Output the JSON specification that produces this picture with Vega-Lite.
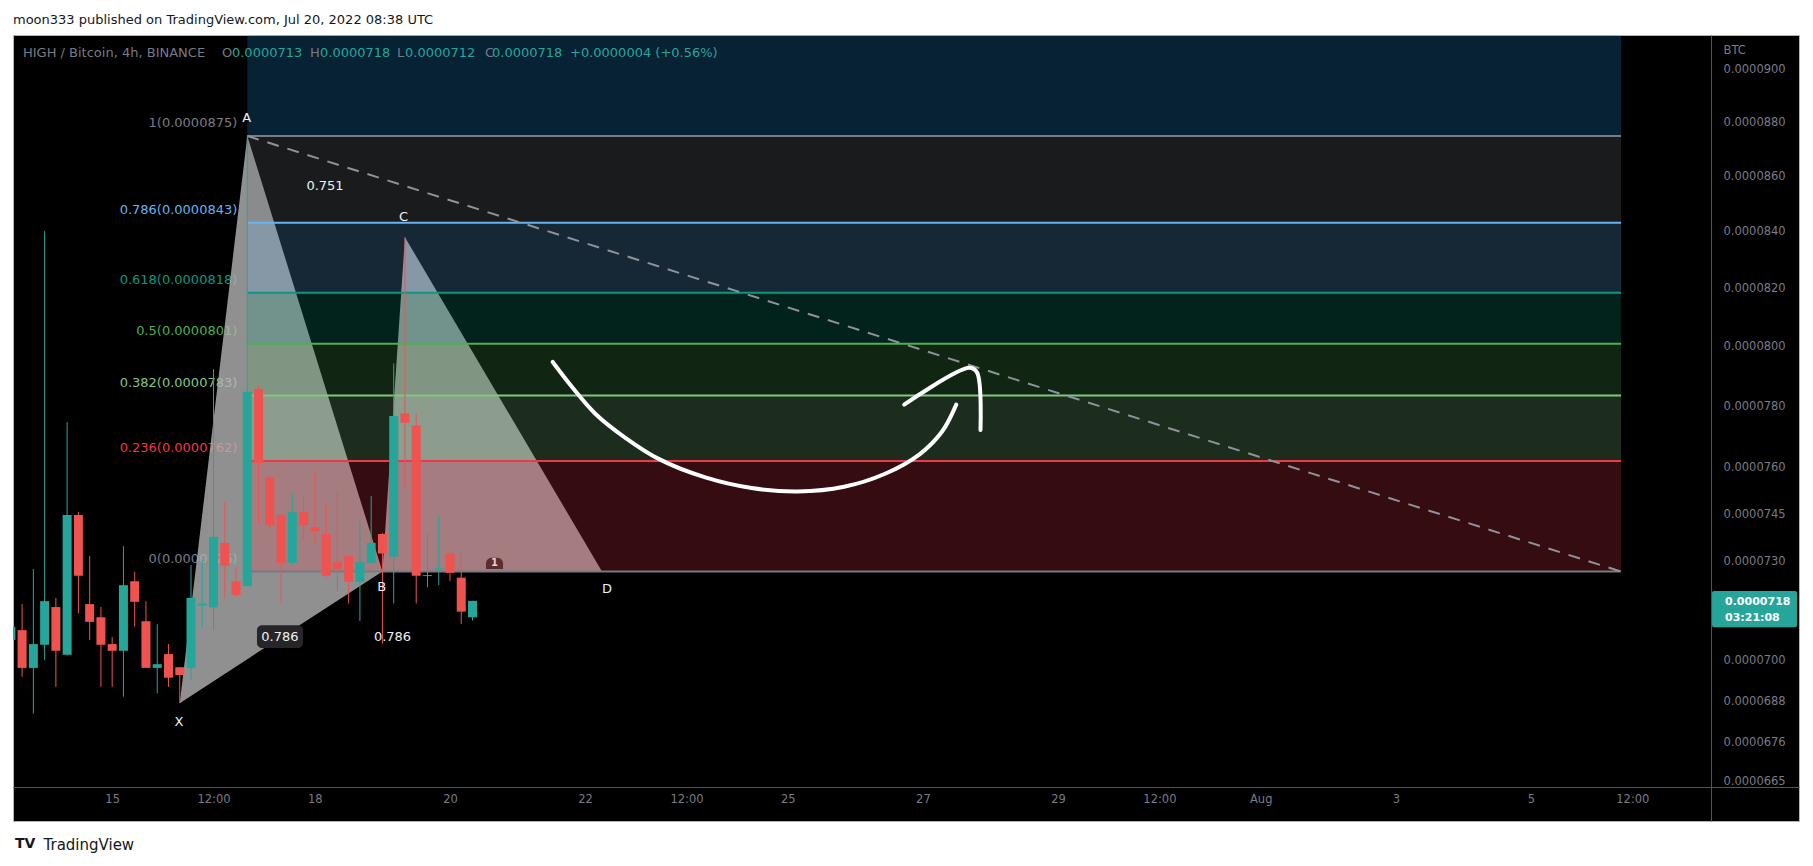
{
  "$schema": "https://vega.github.io/schema/vega-lite/v6.json",
  "width": 1786,
  "height": 786,
  "autosize": "none",
  "padding": {"left": 13, "top": 35, "right": 14, "bottom": 45},
  "background": "#ffffff",
  "config": {
    "font": "DejaVu Sans",
    "view": {"fill": "#000000", "stroke": "#b2b5be", "strokeWidth": 1},
    "axisY": {
      "grid": false, "ticks": false, "tickSize": 0,
      "domainColor": "#50535e", "domainWidth": 1,
      "labelColor": "#787b86", "labelFontSize": 11.5, "labelPadding": 12,
      "labelAlign": "left", "labelBaseline": "middle", "labelOverlap": false, "labelFlush": false,
      "titleAngle": 0, "titleAlign": "left", "titleBaseline": "middle",
      "titleColor": "#787b86", "titleFontSize": 11.5, "titleFontWeight": "normal"
    }
  },
  "title": {
    "text": "moon333 published on TradingView.com, Jul 20, 2022 08:38 UTC",
    "anchor": "start", "frame": "group", "offset": 8,
    "fontSize": 13, "fontWeight": "normal", "color": "#131722"
  },
  "datasets": {
    "candles": [
      {"t": "2022-07-13T12:00:00Z", "o": 0.00007061, "h": 0.00007115, "l": 0.00007030, "c": 0.00007101},
      {"t": "2022-07-13T16:00:00Z", "o": 0.00007091, "h": 0.00007170, "l": 0.00006952, "c": 0.00006978},
      {"t": "2022-07-13T20:00:00Z", "o": 0.00006978, "h": 0.00007278, "l": 0.00006844, "c": 0.00007049},
      {"t": "2022-07-14T00:00:00Z", "o": 0.00007047, "h": 0.00008403, "l": 0.00007001, "c": 0.00007179},
      {"t": "2022-07-14T04:00:00Z", "o": 0.00007161, "h": 0.00007189, "l": 0.00006922, "c": 0.00007029},
      {"t": "2022-07-14T08:00:00Z", "o": 0.00007017, "h": 0.00007748, "l": 0.00007015, "c": 0.00007447},
      {"t": "2022-07-14T12:00:00Z", "o": 0.00007447, "h": 0.00007456, "l": 0.00007142, "c": 0.00007257},
      {"t": "2022-07-14T16:00:00Z", "o": 0.00007170, "h": 0.00007318, "l": 0.00007061, "c": 0.00007116},
      {"t": "2022-07-14T20:00:00Z", "o": 0.00007130, "h": 0.00007161, "l": 0.00006922, "c": 0.00007047},
      {"t": "2022-07-15T00:00:00Z", "o": 0.00007049, "h": 0.00007070, "l": 0.00006922, "c": 0.00007029},
      {"t": "2022-07-15T04:00:00Z", "o": 0.00007029, "h": 0.00007349, "l": 0.00006893, "c": 0.00007228},
      {"t": "2022-07-15T08:00:00Z", "o": 0.00007240, "h": 0.00007269, "l": 0.00007101, "c": 0.00007177},
      {"t": "2022-07-15T12:00:00Z", "o": 0.00007118, "h": 0.00007179, "l": 0.00006978, "c": 0.00006978},
      {"t": "2022-07-15T16:00:00Z", "o": 0.00006978, "h": 0.00007109, "l": 0.00006903, "c": 0.00006989},
      {"t": "2022-07-15T20:00:00Z", "o": 0.00007019, "h": 0.00007049, "l": 0.00006922, "c": 0.00006949},
      {"t": "2022-07-16T00:00:00Z", "o": 0.00006980, "h": 0.00006981, "l": 0.00006874, "c": 0.00006957},
      {"t": "2022-07-16T04:00:00Z", "o": 0.00006978, "h": 0.00007290, "l": 0.00006942, "c": 0.00007189},
      {"t": "2022-07-16T08:00:00Z", "o": 0.00007166, "h": 0.00007305, "l": 0.00007101, "c": 0.00007171},
      {"t": "2022-07-16T12:00:00Z", "o": 0.00007160, "h": 0.00007924, "l": 0.00007091, "c": 0.00007378},
      {"t": "2022-07-16T16:00:00Z", "o": 0.00007359, "h": 0.00007489, "l": 0.00007189, "c": 0.00007288},
      {"t": "2022-07-16T20:00:00Z", "o": 0.00007240, "h": 0.00007285, "l": 0.00007189, "c": 0.00007198},
      {"t": "2022-07-17T00:00:00Z", "o": 0.00007225, "h": 0.00008750, "l": 0.00007225, "c": 0.00007848},
      {"t": "2022-07-17T04:00:00Z", "o": 0.00007857, "h": 0.00007868, "l": 0.00007420, "c": 0.00007614},
      {"t": "2022-07-17T08:00:00Z", "o": 0.00007568, "h": 0.00007575, "l": 0.00007399, "c": 0.00007415},
      {"t": "2022-07-17T12:00:00Z", "o": 0.00007447, "h": 0.00007450, "l": 0.00007172, "c": 0.00007297},
      {"t": "2022-07-17T16:00:00Z", "o": 0.00007297, "h": 0.00007516, "l": 0.00007290, "c": 0.00007456},
      {"t": "2022-07-17T20:00:00Z", "o": 0.00007456, "h": 0.00007507, "l": 0.00007368, "c": 0.00007415},
      {"t": "2022-07-18T00:00:00Z", "o": 0.00007409, "h": 0.00007587, "l": 0.00007359, "c": 0.00007396},
      {"t": "2022-07-18T04:00:00Z", "o": 0.00007387, "h": 0.00007487, "l": 0.00007251, "c": 0.00007257},
      {"t": "2022-07-18T08:00:00Z", "o": 0.00007299, "h": 0.00007526, "l": 0.00007210, "c": 0.00007277},
      {"t": "2022-07-18T12:00:00Z", "o": 0.00007318, "h": 0.00007320, "l": 0.00007172, "c": 0.00007238},
      {"t": "2022-07-18T16:00:00Z", "o": 0.00007238, "h": 0.00007428, "l": 0.00007119, "c": 0.00007299},
      {"t": "2022-07-18T20:00:00Z", "o": 0.00007297, "h": 0.00007507, "l": 0.00007295, "c": 0.00007359},
      {"t": "2022-07-19T00:00:00Z", "o": 0.00007387, "h": 0.00007390, "l": 0.00007051, "c": 0.00007326},
      {"t": "2022-07-19T04:00:00Z", "o": 0.00007316, "h": 0.00007943, "l": 0.00007172, "c": 0.00007767},
      {"t": "2022-07-19T08:00:00Z", "o": 0.00007776, "h": 0.00008381, "l": 0.00007537, "c": 0.00007745},
      {"t": "2022-07-19T12:00:00Z", "o": 0.00007736, "h": 0.00007776, "l": 0.00007172, "c": 0.00007257},
      {"t": "2022-07-19T16:00:00Z", "o": 0.00007256, "h": 0.00007387, "l": 0.00007221, "c": 0.00007259},
      {"t": "2022-07-19T20:00:00Z", "o": 0.00007277, "h": 0.00007447, "l": 0.00007228, "c": 0.00007280},
      {"t": "2022-07-20T00:00:00Z", "o": 0.00007326, "h": 0.00007328, "l": 0.00007241, "c": 0.00007266},
      {"t": "2022-07-20T04:00:00Z", "o": 0.00007251, "h": 0.00007326, "l": 0.00007109, "c": 0.00007147},
      {"t": "2022-07-20T08:00:00Z", "o": 0.00007130, "h": 0.00007180, "l": 0.00007120, "c": 0.00007180}
    ],
    "fib": [
      {"lvl": "1", "p": 0.0000875, "t": "2022-07-17T00:00:00Z", "t2": "2022-08-06T08:00:00Z", "label": "1(0.0000875)"},
      {"lvl": "0.786", "p": 0.00008433, "t": "2022-07-17T00:00:00Z", "t2": "2022-08-06T08:00:00Z", "label": "0.786(0.0000843)"},
      {"lvl": "0.618", "p": 0.00008185, "t": "2022-07-17T00:00:00Z", "t2": "2022-08-06T08:00:00Z", "label": "0.618(0.0000818)"},
      {"lvl": "0.5", "p": 0.0000801, "t": "2022-07-17T00:00:00Z", "t2": "2022-08-06T08:00:00Z", "label": "0.5(0.0000801)"},
      {"lvl": "0.382", "p": 0.00007835, "t": "2022-07-17T00:00:00Z", "t2": "2022-08-06T08:00:00Z", "label": "0.382(0.0000783)"},
      {"lvl": "0.236", "p": 0.0000762, "t": "2022-07-17T00:00:00Z", "t2": "2022-08-06T08:00:00Z", "label": "0.236(0.0000762)"},
      {"lvl": "0", "p": 0.0000727, "t": "2022-07-17T00:00:00Z", "t2": "2022-08-06T08:00:00Z", "label": "0(0.0000726)"}
    ],
    "zones": [
      {"lvl": "1.618", "lo": 0.0000875, "hi": 0.0000966, "t": "2022-07-17T00:00:00Z", "t2": "2022-08-06T08:00:00Z"},
      {"lvl": "1", "lo": 0.00008433, "hi": 0.0000875, "t": "2022-07-17T00:00:00Z", "t2": "2022-08-06T08:00:00Z"},
      {"lvl": "0.786", "lo": 0.00008185, "hi": 0.00008433, "t": "2022-07-17T00:00:00Z", "t2": "2022-08-06T08:00:00Z"},
      {"lvl": "0.618", "lo": 0.0000801, "hi": 0.00008185, "t": "2022-07-17T00:00:00Z", "t2": "2022-08-06T08:00:00Z"},
      {"lvl": "0.5", "lo": 0.00007835, "hi": 0.0000801, "t": "2022-07-17T00:00:00Z", "t2": "2022-08-06T08:00:00Z"},
      {"lvl": "0.382", "lo": 0.0000762, "hi": 0.00007835, "t": "2022-07-17T00:00:00Z", "t2": "2022-08-06T08:00:00Z"},
      {"lvl": "0.236", "lo": 0.0000727, "hi": 0.0000762, "t": "2022-07-17T00:00:00Z", "t2": "2022-08-06T08:00:00Z"}
    ],
    "tri": [
      {"tri": "XAB", "t": "2022-07-16T00:00:00Z", "lo": 0.00006874, "hi": 0.00006874},
      {"tri": "XAB", "t": "2022-07-17T00:00:00Z", "lo": 0.00007004, "hi": 0.0000875},
      {"tri": "XAB", "t": "2022-07-19T00:00:00Z", "lo": 0.0000727, "hi": 0.0000727},
      {"tri": "BCD", "t": "2022-07-19T00:00:00Z", "lo": 0.0000727, "hi": 0.0000727},
      {"tri": "BCD", "t": "2022-07-19T08:00:00Z", "lo": 0.0000727, "hi": 0.00008381},
      {"tri": "BCD", "t": "2022-07-22T06:00:00Z", "lo": 0.0000727, "hi": 0.0000727}
    ],
    "trend": [
      {"t": "2022-07-17T00:00:00Z", "p": 0.0000875},
      {"t": "2022-08-06T08:00:00Z", "p": 0.0000727}
    ],
    "letters": [
      {"t": "2022-07-16T23:45:00Z", "p": 0.00008817, "txt": "A"},
      {"t": "2022-07-15T23:44:00Z", "p": 0.00006820, "txt": "X"},
      {"t": "2022-07-18T23:42:00Z", "p": 0.00007222, "txt": "B"},
      {"t": "2022-07-19T07:29:00Z", "p": 0.00008453, "txt": "C"},
      {"t": "2022-07-22T07:47:00Z", "p": 0.00007217, "txt": "D"}
    ],
    "ratios": [
      {"t": "2022-07-17T11:36:00Z", "p": 0.00007070, "txt": "0.786"},
      {"t": "2022-07-19T03:35:00Z", "p": 0.00007070, "txt": "0.786"},
      {"t": "2022-07-18T03:36:00Z", "p": 0.00008566, "txt": "0.751"}
    ],
    "rbox": [
      {"t": "2022-07-17T03:26:00Z", "t2": "2022-07-17T19:47:00Z", "lo": 0.00007037, "hi": 0.00007106}
    ],
    "arrow": [
      {"seg": "curve", "i": 0, "t": "2022-07-21T12:29:00Z", "p": 0.00007948},
      {"seg": "curve", "i": 1, "t": "2022-07-21T19:26:00Z", "p": 0.00007863},
      {"seg": "curve", "i": 2, "t": "2022-07-22T03:42:00Z", "p": 0.00007774},
      {"seg": "curve", "i": 3, "t": "2022-07-22T13:56:00Z", "p": 0.00007698},
      {"seg": "curve", "i": 4, "t": "2022-07-23T02:17:00Z", "p": 0.00007626},
      {"seg": "curve", "i": 5, "t": "2022-07-23T18:42:00Z", "p": 0.00007567},
      {"seg": "curve", "i": 6, "t": "2022-07-24T11:08:00Z", "p": 0.00007533},
      {"seg": "curve", "i": 7, "t": "2022-07-25T03:33:00Z", "p": 0.00007522},
      {"seg": "curve", "i": 8, "t": "2022-07-25T20:00:00Z", "p": 0.00007537},
      {"seg": "curve", "i": 9, "t": "2022-07-26T10:21:00Z", "p": 0.00007578},
      {"seg": "curve", "i": 10, "t": "2022-07-26T22:41:00Z", "p": 0.00007641},
      {"seg": "curve", "i": 11, "t": "2022-07-27T06:53:00Z", "p": 0.00007717},
      {"seg": "curve", "i": 12, "t": "2022-07-27T11:50:00Z", "p": 0.00007805},
      {"seg": "head", "i": 0, "t": "2022-07-26T17:21:00Z", "p": 0.00007805},
      {"seg": "head", "i": 1, "t": "2022-07-27T16:22:00Z", "p": 0.00007928},
      {"seg": "head", "i": 2, "t": "2022-07-27T19:12:00Z", "p": 0.00007913},
      {"seg": "head", "i": 3, "t": "2022-07-27T20:27:00Z", "p": 0.00007721}
    ],
    "badge": [
      {"t": "2022-07-20T12:47:00Z", "t2": "2022-07-20T18:50:00Z", "lo": 0.00007278, "hi": 0.00007313}
    ],
    "badgetxt": [
      {"t": "2022-07-20T15:49:00Z", "p": 0.00007295, "txt": "1"}
    ],
    "hdr": [
      {"t": "2022-07-13T16:19:00Z", "p": 0.00009064, "txt": "HIGH / Bitcoin, 4h, BINANCE", "kind": "name"},
      {"t": "2022-07-16T15:00:00Z", "p": 0.00009064, "txt": "O", "kind": "name"},
      {"t": "2022-07-16T18:33:00Z", "p": 0.00009064, "txt": "0.0000713", "kind": "value"},
      {"t": "2022-07-17T22:16:00Z", "p": 0.00009064, "txt": "H", "kind": "name"},
      {"t": "2022-07-18T01:49:00Z", "p": 0.00009064, "txt": "0.0000718", "kind": "value"},
      {"t": "2022-07-19T05:10:00Z", "p": 0.00009064, "txt": "L", "kind": "name"},
      {"t": "2022-07-19T08:01:00Z", "p": 0.00009064, "txt": "0.0000712", "kind": "value"},
      {"t": "2022-07-20T12:26:00Z", "p": 0.00009064, "txt": "C", "kind": "name"},
      {"t": "2022-07-20T14:55:00Z", "p": 0.00009064, "txt": "0.0000718", "kind": "value"},
      {"t": "2022-07-21T18:38:00Z", "p": 0.00009064, "txt": "+0.0000004 (+0.56%)", "kind": "value"}
    ],
    "pbox": [
      {"t": "2022-08-07T16:19:00Z", "t2": "2022-08-08T22:31:00Z", "lo": 0.00007100, "hi": 0.00007210}
    ],
    "ptxt": [
      {"t": "2022-08-07T20:56:00Z", "p": 0.00007177, "txt": "0.0000718"},
      {"t": "2022-08-07T20:56:00Z", "p": 0.00007127, "txt": "03:21:08"}
    ],
    "logo": [
      {"t": "2022-07-13T13:28:00Z", "p": 0.00006474, "txt": "TV"}
    ]
  },
  "encoding": {
    "x": {
      "field": "t", "type": "temporal",
      "scale": {"type": "utc", "domain": [1657716364800, 1660000348800], "nice": false, "padding": 0},
      "axis": {
        "orient": "bottom", "offset": -34,
        "values": [1657843200000, 1657972800000, 1658102400000, 1658275200000, 1658448000000, 1658577600000, 1658707200000, 1658880000000, 1659052800000, 1659182400000, 1659312000000, 1659484800000, 1659657600000, 1659787200000],
        "labelExpr": "utcFormat(datum.value, '%H') == '12' ? '12:00' : (utcFormat(datum.value, '%d') == '01' ? 'Aug' : utcFormat(datum.value, '%-d'))",
        "grid": false, "ticks": false, "tickSize": 0,
        "domainColor": "#50535e", "domainWidth": 1,
        "labelColor": "#787b86", "labelFontSize": 11.5, "labelPadding": 12,
        "labelOverlap": false, "labelFlush": false, "labelBaseline": "middle",
        "title": "TradingView", "titleX": 30, "titleY": 57, "titleAlign": "left", "titleBaseline": "middle",
        "titleColor": "#131722", "titleFontSize": 15, "titleFontWeight": "normal"
      }
    }
  },
  "layer": [
    {
      "data": {"name": "fib"},
      "mark": {"type": "text", "align": "right", "baseline": "middle", "dx": -10, "dy": -13, "fontSize": 13},
      "encoding": {
        "y": {"field": "p", "type": "quantitative",
          "scale": {"type": "log", "domain": [0.00006538, 0.00009134], "nice": false, "zero": false, "padding": 0},
          "axis": {"orient": "right", "offset": -88, "values": [0.00009, 0.000088, 0.000086, 0.000084, 0.000082, 0.00008, 0.000078, 0.000076, 0.0000745, 0.000073, 0.00007, 0.0000688, 0.0000676, 0.0000665], "format": ".7f", "title": "BTC", "titleX": 12, "titleY": 15}},
        "text": {"field": "label"},
        "color": {"field": "lvl", "type": "nominal", "legend": null,
          "scale": {"domain": ["0", "0.236", "0.382", "0.5", "0.618", "0.786", "1", "1.618"],
                    "range": ["#787b86", "#f23645", "#81c784", "#4caf50", "#089981", "#64b5f6", "#787b86", "#2196f3"]}}
      }
    },
    {
      "data": {"name": "tri"},
      "mark": {"type": "area", "color": "#b4b4b4", "opacity": 0.8, "clip": true},
      "encoding": {
        "y": {"field": "lo", "type": "quantitative",
          "scale": {"type": "log", "domain": [0.00006538, 0.00009134], "nice": false, "zero": false, "padding": 0},
          "axis": {"orient": "right", "offset": -88, "values": [0.00009, 0.000088, 0.000086, 0.000084, 0.000082, 0.00008, 0.000078, 0.000076, 0.0000745, 0.000073, 0.00007, 0.0000688, 0.0000676, 0.0000665], "format": ".7f", "title": "BTC", "titleX": 12, "titleY": 15}},
        "y2": {"field": "hi"},
        "detail": {"field": "tri"}
      }
    },
    {
      "data": {"name": "zones"},
      "mark": {"type": "rect", "opacity": 0.22, "clip": true},
      "encoding": {
        "x2": {"field": "t2"},
        "y": {"field": "lo", "type": "quantitative",
          "scale": {"type": "log", "domain": [0.00006538, 0.00009134], "nice": false, "zero": false, "padding": 0},
          "axis": {"orient": "right", "offset": -88, "values": [0.00009, 0.000088, 0.000086, 0.000084, 0.000082, 0.00008, 0.000078, 0.000076, 0.0000745, 0.000073, 0.00007, 0.0000688, 0.0000676, 0.0000665], "format": ".7f", "title": "BTC", "titleX": 12, "titleY": 15}},
        "y2": {"field": "hi"},
        "color": {"field": "lvl", "type": "nominal", "legend": null,
          "scale": {"domain": ["0", "0.236", "0.382", "0.5", "0.618", "0.786", "1", "1.618"],
                    "range": ["#787b86", "#f23645", "#81c784", "#4caf50", "#089981", "#64b5f6", "#787b86", "#2196f3"]}}
      }
    },
    {
      "data": {"name": "fib"},
      "mark": {"type": "rule", "strokeWidth": 2, "clip": true},
      "encoding": {
        "x2": {"field": "t2"},
        "y": {"field": "p", "type": "quantitative",
          "scale": {"type": "log", "domain": [0.00006538, 0.00009134], "nice": false, "zero": false, "padding": 0},
          "axis": {"orient": "right", "offset": -88, "values": [0.00009, 0.000088, 0.000086, 0.000084, 0.000082, 0.00008, 0.000078, 0.000076, 0.0000745, 0.000073, 0.00007, 0.0000688, 0.0000676, 0.0000665], "format": ".7f", "title": "BTC", "titleX": 12, "titleY": 15}},
        "color": {"field": "lvl", "type": "nominal", "legend": null,
          "scale": {"domain": ["0", "0.236", "0.382", "0.5", "0.618", "0.786", "1", "1.618"],
                    "range": ["#787b86", "#f23645", "#81c784", "#4caf50", "#089981", "#64b5f6", "#787b86", "#2196f3"]}}
      }
    },
    {
      "data": {"name": "trend"},
      "mark": {"type": "line", "color": "#8f929b", "strokeWidth": 2, "strokeDash": [12, 9], "clip": true},
      "encoding": {
        "y": {"field": "p", "type": "quantitative",
          "scale": {"type": "log", "domain": [0.00006538, 0.00009134], "nice": false, "zero": false, "padding": 0},
          "axis": {"orient": "right", "offset": -88, "values": [0.00009, 0.000088, 0.000086, 0.000084, 0.000082, 0.00008, 0.000078, 0.000076, 0.0000745, 0.000073, 0.00007, 0.0000688, 0.0000676, 0.0000665], "format": ".7f", "title": "BTC", "titleX": 12, "titleY": 15}}
      }
    },
    {
      "data": {"name": "candles"},
      "mark": {"type": "rule", "strokeWidth": 1, "clip": true},
      "encoding": {
        "y": {"field": "l", "type": "quantitative",
          "scale": {"type": "log", "domain": [0.00006538, 0.00009134], "nice": false, "zero": false, "padding": 0},
          "axis": {"orient": "right", "offset": -88, "values": [0.00009, 0.000088, 0.000086, 0.000084, 0.000082, 0.00008, 0.000078, 0.000076, 0.0000745, 0.000073, 0.00007, 0.0000688, 0.0000676, 0.0000665], "format": ".7f", "title": "BTC", "titleX": 12, "titleY": 15}},
        "y2": {"field": "h"},
        "color": {"condition": {"test": "datum.c >= datum.o", "value": "#26a69a"}, "value": "#ef5350"}
      }
    },
    {
      "data": {"name": "candles"},
      "mark": {"type": "bar", "size": 9, "clip": true},
      "encoding": {
        "y": {"field": "o", "type": "quantitative",
          "scale": {"type": "log", "domain": [0.00006538, 0.00009134], "nice": false, "zero": false, "padding": 0},
          "axis": {"orient": "right", "offset": -88, "values": [0.00009, 0.000088, 0.000086, 0.000084, 0.000082, 0.00008, 0.000078, 0.000076, 0.0000745, 0.000073, 0.00007, 0.0000688, 0.0000676, 0.0000665], "format": ".7f", "title": "BTC", "titleX": 12, "titleY": 15}},
        "y2": {"field": "c"},
        "color": {"condition": {"test": "datum.c >= datum.o", "value": "#26a69a"}, "value": "#ef5350"}
      }
    },
    {
      "data": {"name": "rbox"},
      "mark": {"type": "rect", "color": "#262628", "cornerRadius": 5},
      "encoding": {
        "x2": {"field": "t2"},
        "y": {"field": "lo", "type": "quantitative",
          "scale": {"type": "log", "domain": [0.00006538, 0.00009134], "nice": false, "zero": false, "padding": 0},
          "axis": {"orient": "right", "offset": -88, "values": [0.00009, 0.000088, 0.000086, 0.000084, 0.000082, 0.00008, 0.000078, 0.000076, 0.0000745, 0.000073, 0.00007, 0.0000688, 0.0000676, 0.0000665], "format": ".7f", "title": "BTC", "titleX": 12, "titleY": 15}},
        "y2": {"field": "hi"}
      }
    },
    {
      "data": {"name": "ratios"},
      "mark": {"type": "text", "align": "center", "baseline": "middle", "fontSize": 13, "color": "#f0f0f0"},
      "encoding": {
        "y": {"field": "p", "type": "quantitative",
          "scale": {"type": "log", "domain": [0.00006538, 0.00009134], "nice": false, "zero": false, "padding": 0},
          "axis": {"orient": "right", "offset": -88, "values": [0.00009, 0.000088, 0.000086, 0.000084, 0.000082, 0.00008, 0.000078, 0.000076, 0.0000745, 0.000073, 0.00007, 0.0000688, 0.0000676, 0.0000665], "format": ".7f", "title": "BTC", "titleX": 12, "titleY": 15}},
        "text": {"field": "txt"}
      }
    },
    {
      "data": {"name": "letters"},
      "mark": {"type": "text", "align": "center", "baseline": "middle", "fontSize": 13, "color": "#f0f0f0"},
      "encoding": {
        "y": {"field": "p", "type": "quantitative",
          "scale": {"type": "log", "domain": [0.00006538, 0.00009134], "nice": false, "zero": false, "padding": 0},
          "axis": {"orient": "right", "offset": -88, "values": [0.00009, 0.000088, 0.000086, 0.000084, 0.000082, 0.00008, 0.000078, 0.000076, 0.0000745, 0.000073, 0.00007, 0.0000688, 0.0000676, 0.0000665], "format": ".7f", "title": "BTC", "titleX": 12, "titleY": 15}},
        "text": {"field": "txt"}
      }
    },
    {
      "data": {"name": "arrow"},
      "mark": {"type": "line", "color": "#ffffff", "strokeWidth": 4, "strokeCap": "round", "strokeJoin": "round", "interpolate": "catmull-rom"},
      "encoding": {
        "y": {"field": "p", "type": "quantitative",
          "scale": {"type": "log", "domain": [0.00006538, 0.00009134], "nice": false, "zero": false, "padding": 0},
          "axis": {"orient": "right", "offset": -88, "values": [0.00009, 0.000088, 0.000086, 0.000084, 0.000082, 0.00008, 0.000078, 0.000076, 0.0000745, 0.000073, 0.00007, 0.0000688, 0.0000676, 0.0000665], "format": ".7f", "title": "BTC", "titleX": 12, "titleY": 15}},
        "detail": {"field": "seg"},
        "order": {"field": "i", "type": "quantitative"}
      }
    },
    {
      "data": {"name": "badge"},
      "mark": {"type": "rect", "color": "#5c2d2d", "cornerRadiusTopLeft": 7, "cornerRadiusTopRight": 7},
      "encoding": {
        "x2": {"field": "t2"},
        "y": {"field": "lo", "type": "quantitative",
          "scale": {"type": "log", "domain": [0.00006538, 0.00009134], "nice": false, "zero": false, "padding": 0},
          "axis": {"orient": "right", "offset": -88, "values": [0.00009, 0.000088, 0.000086, 0.000084, 0.000082, 0.00008, 0.000078, 0.000076, 0.0000745, 0.000073, 0.00007, 0.0000688, 0.0000676, 0.0000665], "format": ".7f", "title": "BTC", "titleX": 12, "titleY": 15}},
        "y2": {"field": "hi"}
      }
    },
    {
      "data": {"name": "badgetxt"},
      "mark": {"type": "text", "align": "center", "baseline": "middle", "fontSize": 10, "fontWeight": "bold", "color": "#f3c9c9"},
      "encoding": {
        "y": {"field": "p", "type": "quantitative",
          "scale": {"type": "log", "domain": [0.00006538, 0.00009134], "nice": false, "zero": false, "padding": 0},
          "axis": {"orient": "right", "offset": -88, "values": [0.00009, 0.000088, 0.000086, 0.000084, 0.000082, 0.00008, 0.000078, 0.000076, 0.0000745, 0.000073, 0.00007, 0.0000688, 0.0000676, 0.0000665], "format": ".7f", "title": "BTC", "titleX": 12, "titleY": 15}},
        "text": {"field": "txt"}
      }
    },
    {
      "data": {"name": "hdr"},
      "mark": {"type": "text", "align": "left", "baseline": "middle", "fontSize": 13},
      "encoding": {
        "y": {"field": "p", "type": "quantitative",
          "scale": {"type": "log", "domain": [0.00006538, 0.00009134], "nice": false, "zero": false, "padding": 0},
          "axis": {"orient": "right", "offset": -88, "values": [0.00009, 0.000088, 0.000086, 0.000084, 0.000082, 0.00008, 0.000078, 0.000076, 0.0000745, 0.000073, 0.00007, 0.0000688, 0.0000676, 0.0000665], "format": ".7f", "title": "BTC", "titleX": 12, "titleY": 15}},
        "text": {"field": "txt"},
        "color": {"condition": {"test": "datum.kind == 'name'", "value": "#787b86"}, "value": "#26a69a"}
      }
    },
    {
      "data": {"name": "pbox"},
      "mark": {"type": "rect", "color": "#26a69a", "cornerRadius": 2},
      "encoding": {
        "x2": {"field": "t2"},
        "y": {"field": "lo", "type": "quantitative",
          "scale": {"type": "log", "domain": [0.00006538, 0.00009134], "nice": false, "zero": false, "padding": 0},
          "axis": {"orient": "right", "offset": -88, "values": [0.00009, 0.000088, 0.000086, 0.000084, 0.000082, 0.00008, 0.000078, 0.000076, 0.0000745, 0.000073, 0.00007, 0.0000688, 0.0000676, 0.0000665], "format": ".7f", "title": "BTC", "titleX": 12, "titleY": 15}},
        "y2": {"field": "hi"}
      }
    },
    {
      "data": {"name": "ptxt"},
      "mark": {"type": "text", "align": "left", "baseline": "middle", "fontSize": 11, "fontWeight": "bold", "color": "#ffffff"},
      "encoding": {
        "y": {"field": "p", "type": "quantitative",
          "scale": {"type": "log", "domain": [0.00006538, 0.00009134], "nice": false, "zero": false, "padding": 0},
          "axis": {"orient": "right", "offset": -88, "values": [0.00009, 0.000088, 0.000086, 0.000084, 0.000082, 0.00008, 0.000078, 0.000076, 0.0000745, 0.000073, 0.00007, 0.0000688, 0.0000676, 0.0000665], "format": ".7f", "title": "BTC", "titleX": 12, "titleY": 15}},
        "text": {"field": "txt"}
      }
    },
    {
      "data": {"name": "logo"},
      "mark": {"type": "text", "align": "left", "baseline": "middle", "fontSize": 14, "fontWeight": "bold", "color": "#131722"},
      "encoding": {
        "y": {"field": "p", "type": "quantitative",
          "scale": {"type": "log", "domain": [0.00006538, 0.00009134], "nice": false, "zero": false, "padding": 0},
          "axis": {"orient": "right", "offset": -88, "values": [0.00009, 0.000088, 0.000086, 0.000084, 0.000082, 0.00008, 0.000078, 0.000076, 0.0000745, 0.000073, 0.00007, 0.0000688, 0.0000676, 0.0000665], "format": ".7f", "title": "BTC", "titleX": 12, "titleY": 15}},
        "text": {"field": "txt"}
      }
    }
  ]
}
